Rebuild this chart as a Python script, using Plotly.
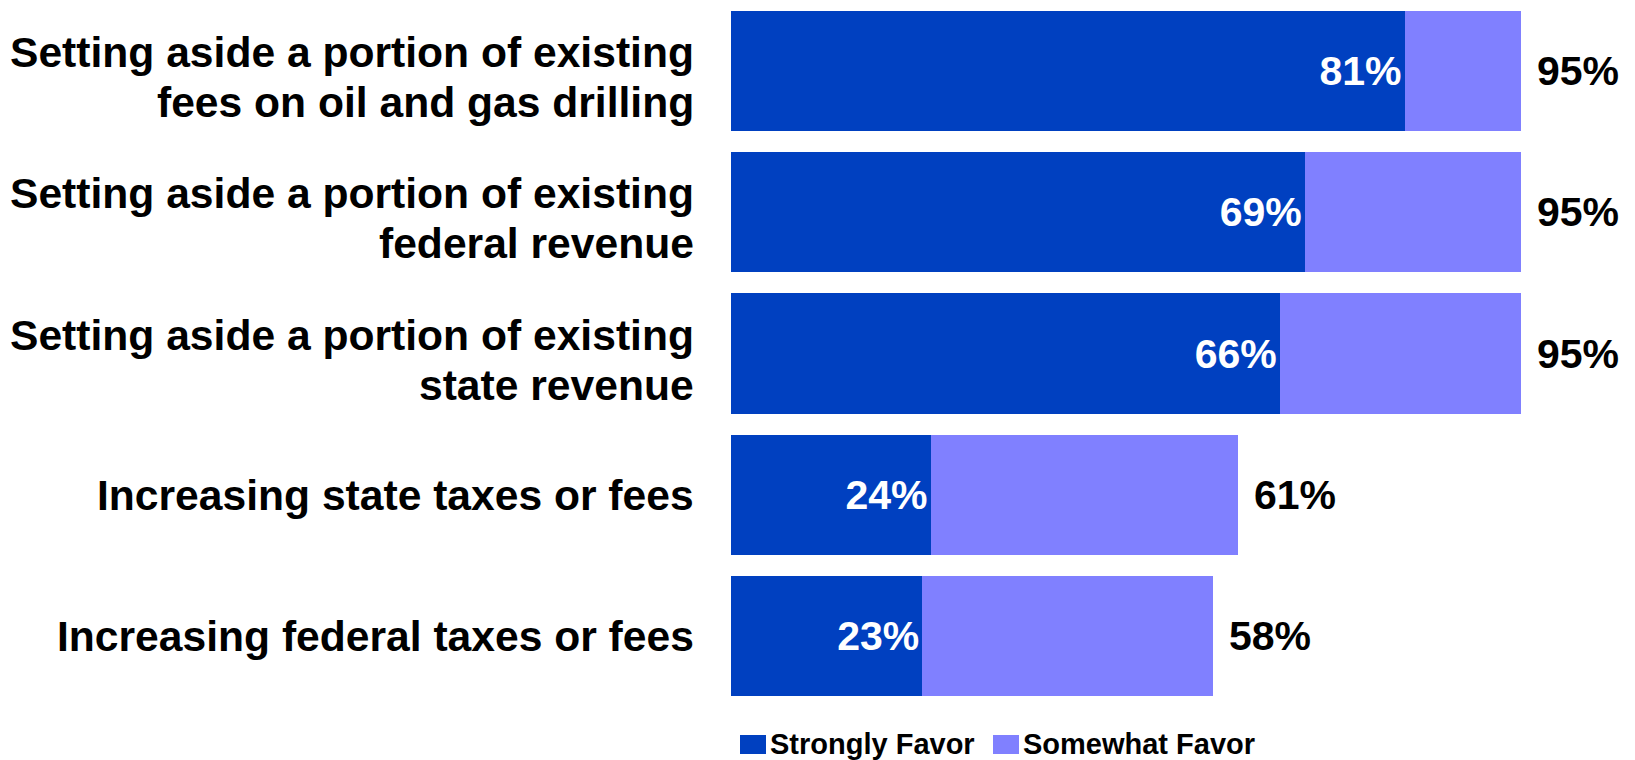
import plotly.graph_objects as go

# Funding options, top to bottom
categories = [
    "Setting aside a portion of existing<br>fees on oil and gas drilling",
    "Setting aside a portion of existing<br>federal revenue",
    "Setting aside a portion of existing<br>state revenue",
    "Increasing state taxes or fees",
    "Increasing federal taxes or fees",
]
strongly_favor = [81, 69, 66, 24, 23]
somewhat_favor = [14, 26, 29, 37, 35]
total_favor = [s + w for s, w in zip(strongly_favor, somewhat_favor)]

STRONG_COLOR = "#0040C0"
SOMEWHAT_COLOR = "#8080FF"
FONT = "Liberation Sans, Arial, sans-serif"

fig = go.Figure()
fig.add_trace(go.Bar(
    y=categories, x=strongly_favor, orientation="h", name="Strongly Favor",
    marker=dict(color=STRONG_COLOR, line=dict(width=0)),
    text=[f"{v}%" for v in strongly_favor], textposition="inside",
    insidetextanchor="end", textangle=0,
    textfont=dict(family=FONT, size=41, color="white", weight="bold"),
    showlegend=False,
))
fig.add_trace(go.Bar(
    y=categories, x=somewhat_favor, orientation="h", name="Somewhat Favor",
    marker=dict(color=SOMEWHAT_COLOR, line=dict(width=0)),
    showlegend=False,
))

annotations = []
# Category labels, one annotation per line so the line spacing stays tight
for cat in categories:
    lines = cat.split("<br>")
    n = len(lines)
    for i, line in enumerate(lines):
        shift = ((n - 1) / 2 - i) * 50 - (6 if n > 1 else 0)
        annotations.append(dict(
            xref="paper", yref="y", x=0, y=cat, text=line,
            xanchor="right", yanchor="middle", showarrow=False,
            xshift=-35, yshift=shift,
            font=dict(family=FONT, size=42.6, color="black", weight="bold"),
        ))
# Total favor labels at the end of each bar
for cat, tot in zip(categories, total_favor):
    annotations.append(dict(
        xref="x", yref="y", x=tot, y=cat, text=f"{tot}%",
        xanchor="left", yanchor="middle", showarrow=False, xshift=14,
        font=dict(family=FONT, size=41, color="black", weight="bold"),
    ))

# Legend drawn along the bottom edge
legend_items = [("Strongly Favor", STRONG_COLOR, 740), ("Somewhat Favor", SOMEWHAT_COLOR, 993)]
W, H = 1635, 760
shapes = []
for label, color, px in legend_items:
    shapes.append(dict(
        type="rect", xref="paper", yref="paper",
        x0=(px - 731) / (W - 731 - 6), x1=(px + 26 - 731) / (W - 731 - 6),
        y0=-(754 - 707) / 707, y1=-(735 - 707) / 707,
        fillcolor=color, line=dict(width=0),
    ))
    annotations.append(dict(
        xref="paper", yref="paper", x=(px + 28 - 731) / (W - 731 - 6),
        y=-(744 - 707) / 707, text=label, xanchor="left", yanchor="middle",
        showarrow=False,
        font=dict(family=FONT, size=29, color="black", weight="bold"),
    ))

fig.update_layout(
    width=W, height=H, barmode="stack", bargap=0.15,
    margin=dict(l=731, r=6, t=0, b=53),
    paper_bgcolor="white", plot_bgcolor="white",
    xaxis=dict(range=[0, 108], visible=False, fixedrange=True),
    yaxis=dict(categoryorder="array", categoryarray=categories,
               autorange="reversed", showticklabels=False,
               showgrid=False, zeroline=False, showline=False),
    annotations=annotations, shapes=shapes,
)

fig.write_html("out.html")
